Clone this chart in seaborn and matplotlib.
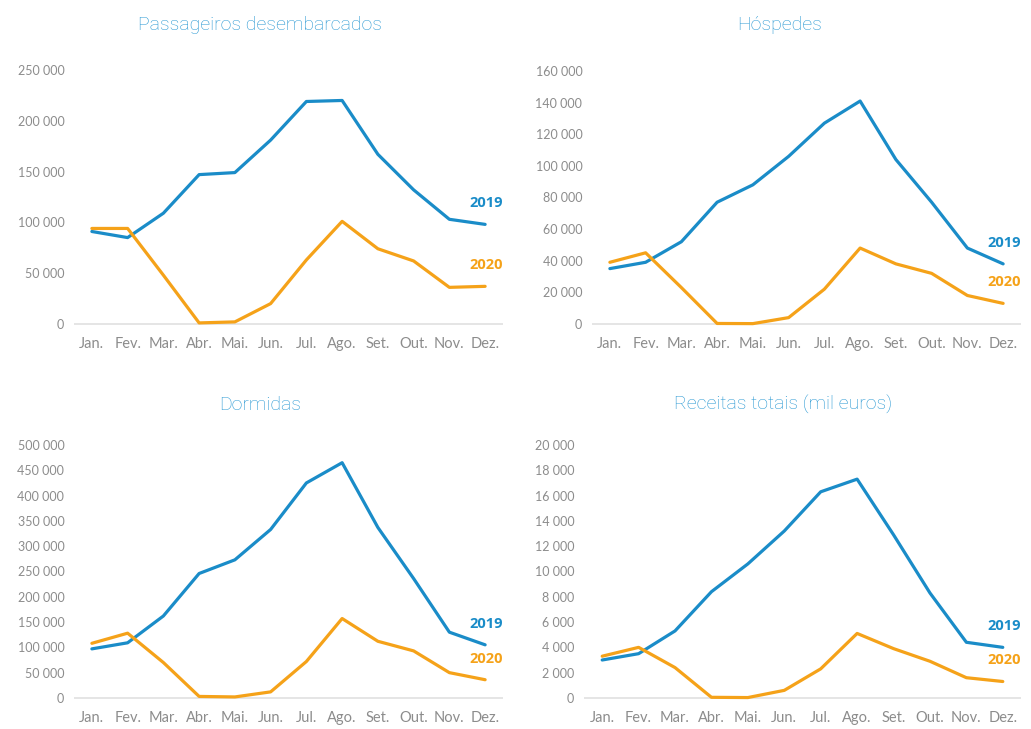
import numpy as np
import pandas as pd
import seaborn as sns
import matplotlib.pyplot as plt

# dados mensais (2019 vs 2020)
meses = ['Jan.', 'Fev.', 'Mar.', 'Abr.', 'Mai.', 'Jun.',
         'Jul.', 'Ago.', 'Set.', 'Out.', 'Nov.', 'Dez.']

passageiros_2019 = [91000, 85000, 109000, 147000, 149000, 181000,
                    219000, 220000, 167000, 132000, 103000, 98000]
passageiros_2020 = [94000, 94000, 48000, 1000, 2000, 20000,
                    63000, 101000, 74000, 62000, 36000, 37000]

hospedes_2019 = [35000, 39000, 52000, 77000, 88000, 106000,
                 127000, 141000, 104000, 77000, 48000, 38000]
hospedes_2020 = [39000, 45000, 23000, 300, 200, 4000,
                 22000, 48000, 38000, 32000, 18000, 13000]

dormidas_2019 = [97000, 109000, 162000, 246000, 273000, 333000,
                 425000, 465000, 337000, 236000, 130000, 105000]
dormidas_2020 = [108000, 128000, 70000, 3000, 2000, 12000,
                 72000, 157000, 112000, 93000, 50000, 36000]

receitas_2019 = [3000, 3500, 5300, 8400, 10600, 13200,
                 16300, 17300, 12900, 8300, 4400, 4000]
receitas_2020 = [3300, 4000, 2400, 50, 30, 600,
                 2300, 5100, 3900, 2900, 1600, 1300]

titulos = ['Passageiros desembarcados', 'Hóspedes', 'Dormidas', 'Receitas totais (mil euros)']
series = [(passageiros_2019, passageiros_2020), (hospedes_2019, hospedes_2020),
          (dormidas_2019, dormidas_2020), (receitas_2019, receitas_2020)]
y_max = [250000, 160000, 500000, 20000]
y_step = [50000, 20000, 50000, 2000]

AZUL = '#1a8cc8'
LARANJA = '#f5a219'
TITULO = '#2496d2'
CINZA = '#8c8c8c'

sns.set_theme(style='white')
plt.rcParams['font.family'] = ['Lato', 'DejaVu Sans']

fig = plt.figure(figsize=(10.31, 7.29), dpi=100)
W, H = 1031, 729
# posicoes dos eixos em pixeis: (esq, topo, dir, base)
caixas = [(74, 70, 503, 329), (592, 71, 1021, 329),
          (74, 445, 503, 703), (584, 445, 1021, 703)]
titulo_pos = [(260, 25), (780, 25), (260, 405), (783, 405)]

for i, (tit, (s19, s20)) in enumerate(zip(titulos, series)):
    l, t, r, b = caixas[i]
    ax = fig.add_axes([l / W, 1 - b / H, (r - l) / W, (b - t) / H])
    df = pd.DataFrame({
        'mes': list(range(12)) * 2,
        'valor': s19 + s20,
        'ano': ['2019'] * 12 + ['2020'] * 12,
    })
    sns.lineplot(data=df, x='mes', y='valor', hue='ano',
                 palette={'2019': AZUL, '2020': LARANJA},
                 linewidth=2.3, legend=False, ax=ax)
    ax.axhline(0, color='#e0e0e0', lw=1.2, zorder=0)
    ax.set_xlim(-0.5, 11.5)
    ax.set_ylim(-0.02 * y_max[i], y_max[i])
    ax.set_xticks(range(12))
    ax.set_xticklabels(meses)
    yt = np.arange(0, y_max[i] + 1, y_step[i])
    ax.set_yticks(yt)
    ax.set_yticklabels([f'{v:,}'.replace(',', ' ') for v in yt])
    ax.tick_params(axis='y', labelsize=9, labelcolor=CINZA, pad=7, length=0)
    ax.tick_params(axis='x', labelsize=10.5, labelcolor=CINZA, pad=6, length=0)
    ax.set_xlabel('')
    ax.set_ylabel('')
    sns.despine(ax=ax, left=True, bottom=True)
    ax.grid(False)

    for vals, lab, cor in [(s19, '2019', AZUL), (s20, '2020', LARANJA)]:
        ax.annotate(lab, xy=(11, vals[11]), xytext=(18, 21),
                    textcoords='offset pixels', ha='right', va='center',
                    color=cor, fontsize=10.5, fontweight='bold',
                    family=['Open Sans', 'DejaVu Sans'],
                    annotation_clip=False)

    tx, ty = titulo_pos[i]
    fig.text(tx / W, 1 - ty / H, tit, ha='center', va='center',
             color=TITULO, fontsize=14, fontweight='light',
             family=['Roboto', 'DejaVu Sans'])

fig.savefig('out.png', dpi=100, facecolor='white')
